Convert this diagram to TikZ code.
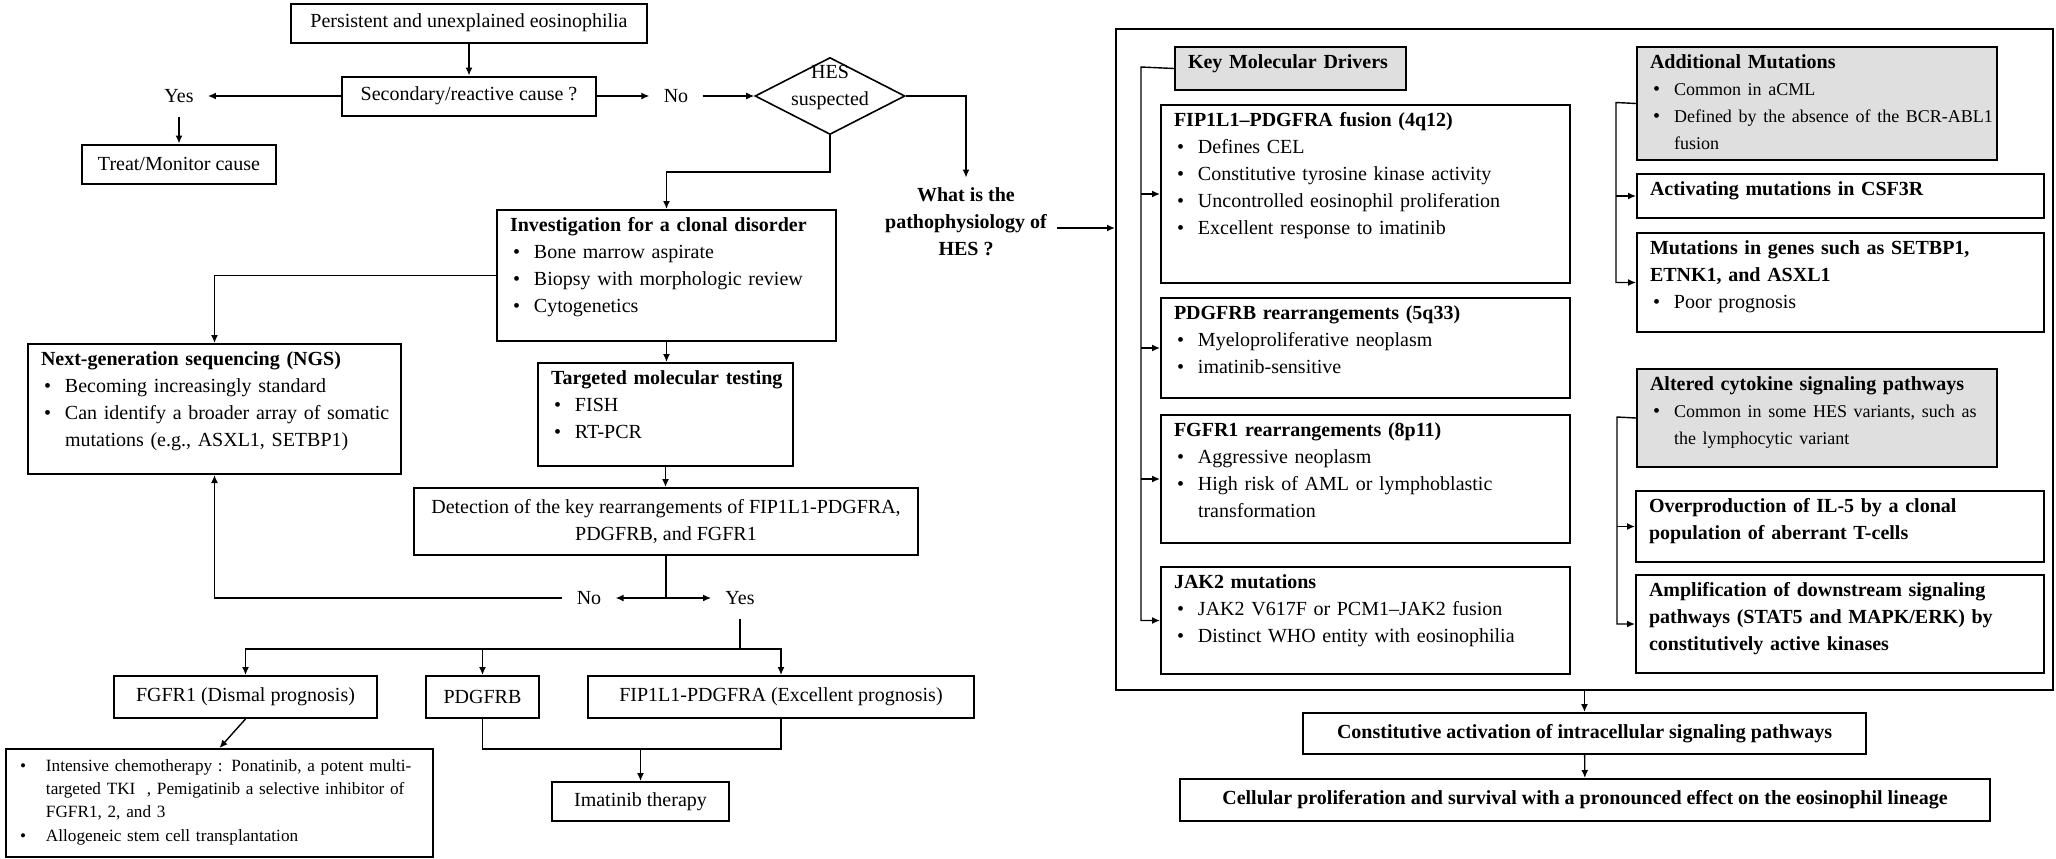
\documentclass[tikz,border=0pt]{standalone}
\usepackage{fontspec}
\setmainfont{Liberation Serif}
\usepackage{tikz}
\usetikzlibrary{arrows.meta}
\usetikzlibrary{shapes.geometric}

\newcommand{\btitle}[1]{\mbox{\bfseries #1}}
\newcommand{\bitem}[1]{\hspace*{1.5pt}\makebox[10.5pt][l]{\textbullet}\mbox{#1}}
\newcommand{\bcont}[1]{\hspace*{12pt}\mbox{#1}}
\newcommand{\sitem}[1]{\makebox[13pt][l]{\textbullet}\mbox{#1}}
\newcommand{\scont}[1]{\hspace*{13pt}\mbox{#1}}

\tikzset{
    box/.style={draw, line width=1pt, font=\fontsize{10}{13.5}\selectfont},
    cbox/.style={box, align=center, inner sep=2pt},
    tbox/.style={box, anchor=north west, align=left, inner xsep=6.5pt, inner ysep=0pt, text height=10.5pt},
    gbox/.style={tbox, fill=gray!25},
    lbl/.style={inner xsep=7pt, inner ysep=7pt, font=\fontsize{10}{13.5}\selectfont},
    arr/.style={line width=.7pt, -{Latex[length=4pt,width=3.5pt]}},
    conn/.style={line width=.7pt},
}

\begin{document}
\begin{tikzpicture}[x=0.5pt,y=-0.5pt]
    \useasboundingbox (0,0) rectangle (2056,858);

    %diagnosis
    \node[cbox, minimum width=178pt, minimum height=19.5pt] (persist) at (469,23) {Persistent and unexplained eosinophilia};
    \node[cbox, minimum width=127pt, minimum height=19.5pt] (second) at (469,96) {Secondary/reactive cause ?};
    \node[lbl] (yes) at (179,96) {Yes};
    \node[cbox, minimum width=97pt, minimum height=19.5pt] (treat) at (179,164) {Treat/Monitor cause};
    \node[lbl] (no) at (676,96) {No};
    \node[diamond, draw, line width=.8pt, minimum width=75pt, minimum height=38.5pt, inner sep=0pt,
        label={[font=\fontsize{10}{13.5}\selectfont, align=center, yshift=4pt]center:{HES\\suspected}}] (hes) at (830,96) {};
    \node[align=center, inner sep=5pt, font=\bfseries\fontsize{10}{13.5}\selectfont] (why) at (966,222) {What is the\\pathophysiology of\\HES ?};

    %clonal work-up
    \node[tbox, text width=156.5pt, text depth=55pt] (invest) at (496,209) {\btitle{Investigation for a clonal disorder}\\
        \bitem{Bone marrow aspirate}\\ \bitem{Biopsy with morphologic review}\\ \bitem{Cytogenetics}};
    \node[tbox, text width=173.5pt, text depth=54.5pt] (ngs) at (27,343) {\btitle{Next-generation sequencing (NGS)}\\
        \bitem{Becoming increasingly standard}\\ \bitem{Can identify a broader array of somatic}\\ \bcont{mutations (e.g., ASXL1, SETBP1)}};
    \node[tbox, text width=114.5pt, text depth=41pt] (target) at (537,362) {\btitle{Targeted molecular testing}\\
        \bitem{FISH}\\ \bitem{RT-PCR}};
    \node[cbox, minimum width=252pt, minimum height=33.5pt] (detect) at (666,521.5) {Detection of the key rearrangements of FIP1L1-PDGFRA,\\PDGFRB, and FGFR1};
    \node[lbl] (noB) at (589,598) {No};
    \node[lbl] (yesB) at (740,598) {Yes};

    %treatment
    \node[cbox, minimum width=131.5pt, minimum height=21pt] (fgfr) at (245.5,697) {FGFR1 (Dismal prognosis)};
    \node[cbox, minimum width=56.5pt, minimum height=21pt] (pdgfrb) at (482.5,697) {PDGFRB};
    \node[cbox, minimum width=193pt, minimum height=21pt] (fip) at (781,697) {FIP1L1-PDGFRA (Excellent prognosis)};
    \node[tbox, font=\fontsize{8.6}{11.7}\selectfont, inner xsep=7pt, text height=11pt, text width=199.5pt, text depth=43pt] (chemo) at (5,748) {%
        \sitem{Intensive chemotherapy : Ponatinib, a potent multi-}\\ \scont{targeted TKI\ \ , Pemigatinib a selective inhibitor of}\\
        \scont{FGFR1, 2, and 3}\\ \sitem{Allogeneic stem cell transplantation}};
    \node[cbox, minimum width=88.5pt, minimum height=19.5pt] (imat) at (640.5,801.5) {Imatinib therapy};

    \coordinate (hesturn) at (830,172);
    \coordinate (split) at (666,598);
    \coordinate (bus) at (740,649);
    \coordinate (merge) at (640.5,749);
    \coordinate (whyout) at ([yshift=-3pt]why.east);

    \draw[arr] (persist) -- (second);
    \draw[arr] (second) -- (yes);
    \draw[arr] (yes) -- (treat);
    \draw[arr] (second) -- (no);
    \draw[arr] (no) -- (hes);
    \draw[arr] (hes.east) -| (why.north);
    \draw[arr] (hes.south) -- (hesturn) -| (invest.north);
    \draw[arr] (invest.west) -| (ngs.north);
    \draw[arr] (invest.south) -- (invest.south |- target.north);
    \draw[arr] (target.south) -- (target.south |- detect.north);
    \draw[conn] (detect.south) -- (split);
    \draw[arr] (split) -- (noB);
    \draw[arr] (split) -- (yesB);
    \draw[arr] (noB) -| (ngs.south);
    \draw[conn] (yesB) -- (bus);
    \draw[arr] (bus) -| (fgfr.north);
    \draw[arr] (bus) -| (fip.north);
    \draw[arr] (bus -| pdgfrb.north) -- (pdgfrb.north);
    \draw[arr] (fgfr.south) -- (chemo.north);
    \draw[conn] (pdgfrb.south) |- (merge) -| (fip.south);
    \draw[arr] (merge) -- (imat);

    %pathophysiology
    \node[draw, line width=1pt, minimum width=468.5pt, minimum height=330.5pt] (mech) at (1584.5,359.5) {};
    \node[gbox, text width=102.5pt, text depth=11pt] (key) at (1174,46) {\btitle{Key Molecular Drivers}};
    \node[tbox, text width=191.5pt, text depth=78.5pt] (fipr) at (1160,104) {\btitle{FIP1L1–PDGFRA fusion (4q12)}\\
        \bitem{Defines CEL}\\ \bitem{Constitutive tyrosine kinase activity}\\ \bitem{Uncontrolled eosinophil proliferation}\\ \bitem{Excellent response to imatinib}};
    \node[tbox, text width=191.5pt, text depth=39.5pt] (pdgr) at (1160,297) {\btitle{PDGFRB rearrangements (5q33)}\\
        \bitem{Myeloproliferative neoplasm}\\ \bitem{imatinib-sensitive}};
    \node[tbox, text width=191.5pt, text depth=53.5pt] (fgfrr) at (1160,414) {\btitle{FGFR1 rearrangements (8p11)}\\
        \bitem{Aggressive neoplasm}\\ \bitem{High risk of AML or lymphoblastic}\\ \bcont{transformation}};
    \node[tbox, text width=191.5pt, text depth=43pt] (jak) at (1160,566) {\btitle{JAK2 mutations}\\
        \bitem{JAK2 V617F or PCM1–JAK2 fusion}\\ \bitem{Distinct WHO entity with eosinophilia}};

    \node[gbox, text width=167pt, text depth=46pt] (addm) at (1636,46) {\btitle{Additional Mutations}\\
        \bitem{\fontsize{9}{13.5}\selectfont Common in aCML}\\ \bitem{\fontsize{9}{13.5}\selectfont Defined by the absence of the BCR-ABL1}\\
        \bcont{\fontsize{9}{13.5}\selectfont fusion}};
    \node[tbox, text width=190.5pt, text depth=11.5pt] (csf) at (1636,173) {\btitle{Activating mutations in CSF3R}};
    \node[tbox, text width=190.5pt, text depth=39pt] (setb) at (1636,232) {\btitle{Mutations in genes such as SETBP1,}\\
        \btitle{ETNK1, and ASXL1}\\ \bitem{Poor prognosis}};
    \node[gbox, text width=167pt, text depth=38.5pt] (cyto) at (1636,368) {\btitle{Altered cytokine signaling pathways}\\
        \bitem{\fontsize{9}{13.5}\selectfont Common in some HES variants, such as}\\ \bcont{\fontsize{9}{13.5}\selectfont the lymphocytic variant}};
    \node[tbox, text width=191pt, text depth=25pt] (il5) at (1635,490) {\btitle{Overproduction of IL-5 by a clonal}\\
        \btitle{population of aberrant T-cells}};
    \node[tbox, text width=191pt, text depth=38.5pt] (ampl) at (1635,574) {\btitle{Amplification of downstream signaling}\\
        \btitle{pathways (STAT5 and MAPK/ERK) by}\\ \btitle{constitutively active kinases}};

    \node[cbox, font=\bfseries\fontsize{10}{13.5}\selectfont, minimum width=281.5pt, minimum height=20.5pt] (const) at (1584.5,733.5) {Constitutive activation of intracellular signaling pathways};
    \node[cbox, font=\bfseries\fontsize{10}{13.5}\selectfont, minimum width=405pt, minimum height=21pt] (cell) at (1585,800) {Cellular proliferation and survival with a pronounced effect on the eosinophil lineage};

    \coordinate (lrail) at (1141,67);
    \coordinate (rrail) at (1616,102.5);
    \coordinate (crail) at (1617,417);

    \draw[arr] (whyout) -- (whyout -| mech.west);
    \draw[arr] (key.west) -- (lrail) |- (jak.west);
    \foreach \b in {fipr,pdgr,fgfrr}
        \draw[arr] (lrail |- \b.west) -- (\b.west);
    \draw[arr] (addm.west) -- (rrail) |- (setb.west);
    \draw[arr] (rrail |- csf.west) -- (csf.west);
    \draw[arr] (cyto.west) -- (crail) |- (ampl.west);
    \draw[arr] (crail |- il5.west) -- (il5.west);
    \draw[arr] (mech.south) -- (const.north);
    \draw[arr] (const) -- (cell);
\end{tikzpicture}
\end{document}
